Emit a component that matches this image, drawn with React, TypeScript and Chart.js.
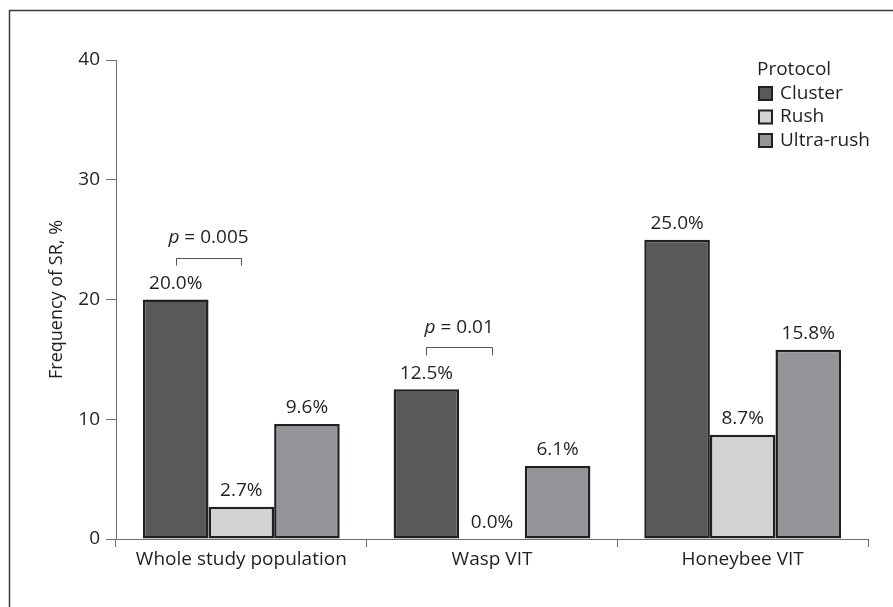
import React, { useEffect, useRef } from "react";
import { Chart, registerables } from "chart.js";

Chart.register(...registerables);

// ---- Data ----
const categories = ["Whole study population", "Wasp VIT", "Honeybee VIT"];
const seriesNames = ["Cluster", "Rush", "Ultra-rush"];
const clusterValues = [20.0, 12.5, 25.0];
const rushValues = [2.7, 0.0, 8.7];
const ultraRushValues = [9.6, 6.1, 15.8];
const seriesColors = ["#58595b", "#d1d3d4", "#939598"];
const yTickValues = [0, 10, 20, 30, 40];
const legendTitle = "Protocol";
const yAxisTitle = "Frequency of SR, %";
// significance brackets: category index, bracket level (value), p text
const bracketCategories = [0, 1];
const bracketLevels = [23.5, 16.0];
const bracketPValues = ["0.005", "0.01"];

const FONT = "'Open Sans', 'Noto Sans', sans-serif";
const FS = 19;
const TEXT = "#231f20";
const AXIS = "#6d6e71";

const overlayPlugin = {
  id: "overlay",
  afterDatasetsDraw(chart: any) {
    const ctx = chart.ctx;
    const yScale = chart.scales.y;
    ctx.save();
    // value labels
    ctx.fillStyle = TEXT;
    ctx.font = `${FS}px ${FONT}`;
    ctx.textAlign = "center";
    ctx.textBaseline = "middle";
    chart.data.datasets.forEach((ds: any, i: number) => {
      const meta = chart.getDatasetMeta(i);
      meta.data.forEach((bar: any, j: number) => {
        const v = ds.data[j];
        ctx.fillText(v.toFixed(1) + "%", bar.x, bar.y - 16);
      });
    });
    // brackets
    bracketCategories.forEach((cat, k) => {
      const b1 = chart.getDatasetMeta(0).data[cat];
      const b2 = chart.getDatasetMeta(1).data[cat];
      const yTop = yScale.getPixelForValue(bracketLevels[k]);
      const yLeg = yTop + 8;
      ctx.strokeStyle = "#555";
      ctx.lineWidth = 1;
      ctx.beginPath();
      ctx.moveTo(Math.round(b1.x) + 0.5, yLeg);
      ctx.lineTo(Math.round(b1.x) + 0.5, Math.round(yTop) + 0.5);
      ctx.lineTo(Math.round(b2.x) + 0.5, Math.round(yTop) + 0.5);
      ctx.lineTo(Math.round(b2.x) + 0.5, yLeg);
      ctx.stroke();
      // p text
      const cx = (b1.x + b2.x) / 2;
      const ty = yTop - 20;
      const italic = `italic ${FS}px ${FONT}`;
      const normal = `${FS}px ${FONT}`;
      const rest = " = " + bracketPValues[k];
      ctx.font = italic;
      const wp = ctx.measureText("p").width;
      ctx.font = normal;
      const wr = ctx.measureText(rest).width;
      const start = cx - (wp + wr) / 2;
      ctx.textAlign = "left";
      ctx.font = italic;
      ctx.fillText("p", start, ty);
      ctx.font = normal;
      ctx.fillText(rest, start + wp, ty);
      ctx.textAlign = "center";
    });
    // legend
    const lx = chart.chartArea.right - 110;
    const ly = chart.chartArea.top + 10;
    ctx.textAlign = "left";
    ctx.font = `${FS}px ${FONT}`;
    ctx.fillStyle = TEXT;
    ctx.fillText(legendTitle, lx - 1, ly);
    chart.data.datasets.forEach((ds: any, i: number) => {
      const cy = ly + 23.5 * (i + 1);
      ctx.fillStyle = ds.backgroundColor;
      ctx.fillRect(lx + 1, cy - 6.5, 13, 13);
      ctx.strokeStyle = TEXT;
      ctx.lineWidth = 2;
      ctx.strokeRect(lx + 1, cy - 6.5, 13, 13);
      ctx.fillStyle = TEXT;
      ctx.fillText(ds.label, lx + 22, cy);
    });
    ctx.restore();
  },
  afterDraw(chart: any) {
    const ctx = chart.ctx;
    ctx.save();
    ctx.strokeStyle = "#3a3a3a";
    ctx.lineWidth = 1.5;
    ctx.beginPath();
    ctx.moveTo(9.5, 607);
    ctx.lineTo(9.5, 10.5);
    ctx.lineTo(893, 10.5);
    ctx.stroke();
    ctx.restore();
  },
};

export default function App() {
  const canvasRef = useRef<HTMLCanvasElement | null>(null);

  useEffect(() => {
    if (!canvasRef.current) return;
    const values = [clusterValues, rushValues, ultraRushValues];
    const chart = new Chart(canvasRef.current, {
      type: "bar",
      data: {
        labels: categories,
        datasets: seriesNames.map((name, i) => ({
          label: name,
          data: values[i],
          backgroundColor: seriesColors[i],
          borderColor: TEXT,
          borderWidth: 2.5,
          borderSkipped: false,
          categoryPercentage: 0.785,
          barPercentage: 1,
        })),
      },
      options: {
        responsive: false,
        animation: false,
        devicePixelRatio: 1,
        layout: { padding: { left: 10, right: 25, top: 60, bottom: 0 } },
        plugins: {
          legend: { display: false },
          tooltip: { enabled: false },
        },
        scales: {
          x: {
            offset: true,
            grid: {
              display: true,
              drawOnChartArea: false,
              drawTicks: true,
              tickLength: 8,
              color: AXIS,
              offset: true,
            },
            border: { display: true, color: AXIS, width: 1 },
            ticks: {
              color: TEXT,
              font: { family: FONT, size: FS },
              padding: 1,
              maxRotation: 0,
              autoSkip: false,
            },
            afterFit: (s: any) => {
              s.height = 68;
            },
          },
          y: {
            min: 0,
            max: 40,
            afterBuildTicks: (s: any) => {
              s.ticks = yTickValues.map((v) => ({ value: v }));
            },
            grid: {
              display: true,
              drawOnChartArea: false,
              drawTicks: true,
              tickLength: 10,
              color: AXIS,
            },
            border: { display: true, color: AXIS, width: 1 },
            ticks: {
              color: TEXT,
              font: { family: FONT, size: FS },
              padding: 6,
            },
            title: {
              display: true,
              text: yAxisTitle,
              color: TEXT,
              font: { family: FONT, size: 18 },
              padding: { top: 36, bottom: 0 },
            },
            afterFit: (s: any) => {
              s.width = 106;
            },
          },
        },
      },
      plugins: [overlayPlugin],
    });
    return () => chart.destroy();
  }, []);

  return (
    <div style={{ position: "absolute", left: 0, top: 0, width: 893, height: 607, background: "#fff" }}>
      <canvas ref={canvasRef} width={893} height={607} />
    </div>
  );
}
